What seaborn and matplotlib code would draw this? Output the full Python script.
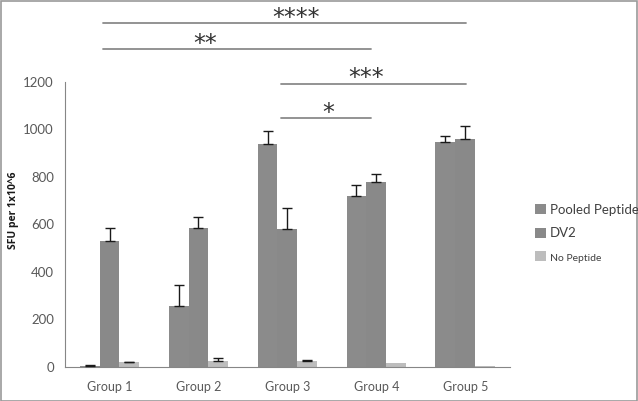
import matplotlib
matplotlib.use("Agg")
import matplotlib.pyplot as plt
import seaborn as sns
import pandas as pd
import numpy as np
from matplotlib.patches import Rectangle, Patch

groups = ["Group 1", "Group 2", "Group 3", "Group 4", "Group 5"]
series = ["Pooled Peptide", "DV2", "No Peptide"]
pooled = [5, 257, 939, 720, 947]
pooled_err = [1, 88, 54, 46, 26]
dv2 = [530, 585, 581, 779, 960]
dv2_err = [56, 47, 88, 34, 55]
nopep = [20, 25, 25, 18, 4]
nopep_err = [2, 13, 4, 0, 0]
yticks = [0, 200, 400, 600, 800, 1000, 1200]

# significance annotations: (group a, group b, label, line y, label x, label y)
sig = [
    (0, 4, "****", 1448, 2.10, 1490),
    (0, 3, "**", 1339, 1.07, 1381),
    (2, 4, "***", 1192, 2.89, 1238),
    (2, 3, "*", 1048, 2.46, 1090),
]

sns.set_theme(style="white")
plt.rcParams["font.family"] = ["Lato", "DejaVu Sans"]

values = [pooled, dv2, nopep]
errs = [pooled_err, dv2_err, nopep_err]
rows = []
for s, vals in zip(series, values):
    for g, v in zip(groups, vals):
        rows.append({"group": g, "series": s, "value": v})
df = pd.DataFrame(rows)

colors = {"Pooled Peptide": "#8b8b8b", "DV2": "#898989", "No Peptide": "#bdbdbd"}

fig = plt.figure(figsize=(6.38, 4.01), dpi=100)
ax = fig.add_axes([0.102, 0.085, 0.697, 0.7105])

sns.barplot(data=df, x="group", y="value", hue="series", order=groups,
            hue_order=series, palette=colors, width=0.67, saturation=1,
            errorbar=None, edgecolor="none", linewidth=0, ax=ax, legend=False)

# error bars (upper only)
bar_containers = list(ax.containers)
for ci, container in enumerate(bar_containers):
    for bi, bar in enumerate(container):
        e = errs[ci][bi]
        if e <= 0:
            continue
        xc = bar.get_x() + bar.get_width() / 2
        top = bar.get_height()
        ax.errorbar([xc], [top], yerr=[[0], [e]], fmt="none", ecolor="#1a1a1a",
                    elinewidth=1.0, capsize=3.5, capthick=1.0, zorder=5)

ax.set_xlim(-0.5, len(groups) - 0.5)
ax.set_ylim(0, 1200)
ax.set_yticks(yticks)
ax.set_yticklabels([str(t) for t in yticks], fontsize=9.5, color="#595959")
ax.set_xticks(range(len(groups)))
ax.set_xticklabels(groups, fontsize=9, color="#595959")
ax.set_xticks(np.arange(-0.5, len(groups)), minor=True)
ax.tick_params(axis="x", which="major", length=0, pad=10)
ax.tick_params(axis="x", which="minor", length=5, color="#868686", width=0.8, direction="out")
ax.tick_params(axis="y", length=4, color="#868686", width=0.8, direction="out", pad=4)
ax.set_xlabel("")
ax.set_ylabel("SFU per 1x10^6", fontsize=7.5, fontweight="bold", color="#1a1a1a",
              family=["Open Sans", "DejaVu Sans"])
ax.yaxis.set_label_coords(-0.104, 0.55)
for side in ["top", "right"]:
    ax.spines[side].set_visible(False)
for side in ["left", "bottom"]:
    ax.spines[side].set_color("#868686")
    ax.spines[side].set_linewidth(0.8)

# significance lines
star_fs = 17
star_shift = 0.5 * star_fs * 100 / 72 / (ax.get_position().height * 4.01 * 100 / 1200)
for a, b, lab, ly, tx, ty in sig:
    ax.plot([a - 0.07, b + 0.01 if b == 4 else b - 0.06], [ly, ly], color="#8a8a8a",
            lw=1.3, clip_on=False, zorder=3)
    ax.text(tx, ty - star_shift, lab, ha="center", va="baseline", fontsize=star_fs,
            color="#333333", clip_on=False, family="DejaVu Sans")

# legend
handles = [Patch(facecolor=colors[s], edgecolor="none") for s in series]
leg = fig.legend(handles, series, loc="upper left", bbox_to_anchor=(0.82, 0.522),
                 frameon=False, handlelength=0.8, handleheight=0.8,
                 handletextpad=0.3, labelspacing=0.9, fontsize=9.5)
texts = leg.get_texts()
texts[0].set_fontsize(9.5)
texts[1].set_fontsize(9.5)
texts[2].set_fontsize(7.5)
for t in texts:
    t.set_color("#404040")

fig.patches.append(Rectangle((0.001, 0.001), 0.997, 0.997, transform=fig.transFigure,
                             fill=False, edgecolor="#9a9a9a", linewidth=1.2))

fig.savefig("out.png", dpi=100)
